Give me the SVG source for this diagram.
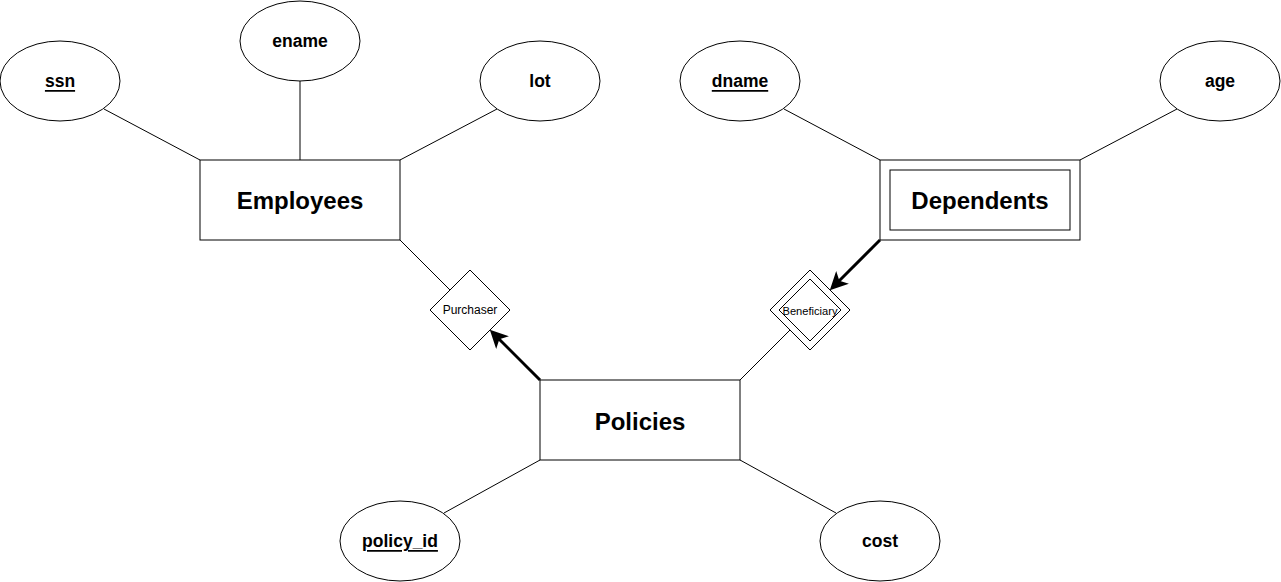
<svg xmlns="http://www.w3.org/2000/svg" width="1281" height="582" viewBox="0 0 1281 582">
<style>
.shape{fill:#fff;stroke:#000;stroke-width:1}
.conn{stroke:#000;stroke-width:1;fill:none}
.thick{stroke:#000;stroke-width:3;fill:none}
.ent{font-family:"Liberation Sans",Arial,sans-serif;font-size:24px;font-weight:bold;text-anchor:middle;dominant-baseline:central}
.att{font-family:"Liberation Sans",Arial,sans-serif;font-size:17.5px;font-weight:bold;text-anchor:middle;dominant-baseline:central}
.rel{font-family:"Liberation Sans",Arial,sans-serif;font-size:12px;text-anchor:middle;dominant-baseline:central}
.key{text-decoration:underline}
</style>
<defs>
<marker id="arr" markerWidth="6" markerHeight="6" refX="4.5" refY="3" orient="auto" markerUnits="strokeWidth">
<path d="M0,0 L6,3 L0,6 L1.5,3 Z" fill="#000"/>
</marker>
</defs>
<g id="connectors">
<line class="conn" x1="104" y1="109" x2="200" y2="160"/>
<line class="conn" x1="300" y1="81" x2="300" y2="160"/>
<line class="conn" x1="497" y1="109" x2="400" y2="160"/>
<line class="conn" x1="784" y1="109" x2="880" y2="160"/>
<line class="conn" x1="1177" y1="109" x2="1080" y2="160"/>
<line class="conn" x1="400" y1="240" x2="450" y2="290"/>
<line class="thick" x1="540" y1="380" x2="493" y2="333" marker-end="url(#arr)"/>
<line class="thick" x1="880" y1="240" x2="833" y2="287" marker-end="url(#arr)"/>
<line class="conn" x1="740" y1="380" x2="790" y2="330"/>
<line class="conn" x1="540" y1="460" x2="444" y2="513"/>
<line class="conn" x1="740" y1="460" x2="836" y2="513"/>
</g>
<g id="ssn"><ellipse class="shape" cx="60" cy="81" rx="60" ry="40"/><text class="att key" x="60" y="81">ssn</text></g>
<g id="ename"><ellipse class="shape" cx="300" cy="41" rx="60" ry="40"/><text class="att" x="300" y="41">ename</text></g>
<g id="lot"><ellipse class="shape" cx="540" cy="81" rx="60" ry="40"/><text class="att" x="540" y="81">lot</text></g>
<g id="dname"><ellipse class="shape" cx="740" cy="81" rx="60" ry="40"/><text class="att key" x="740" y="81">dname</text></g>
<g id="age"><ellipse class="shape" cx="1220" cy="81" rx="60" ry="40"/><text class="att" x="1220" y="81">age</text></g>
<g id="policy_id"><ellipse class="shape" cx="400" cy="541" rx="60" ry="40"/><text class="att key" x="400" y="541">policy_id</text></g>
<g id="cost"><ellipse class="shape" cx="880" cy="541" rx="60" ry="40"/><text class="att" x="880" y="541">cost</text></g>
<g id="Employees"><rect class="shape" x="200" y="160" width="200" height="80"/><text class="ent" x="300" y="200">Employees</text></g>
<g id="Dependents"><rect class="shape" x="880" y="160" width="200" height="80"/><rect class="shape" x="890" y="170" width="180" height="60"/><text class="ent" x="980" y="200">Dependents</text></g>
<g id="Policies"><rect class="shape" x="540" y="380" width="200" height="80"/><text class="ent" x="640" y="421">Policies</text></g>
<g id="Purchaser"><polygon class="shape" points="470,270 510,310 470,350 430,310"/><text class="rel" x="470" y="310">Purchaser</text></g>
<g id="Beneficiary"><polygon class="shape" points="810,270 850,310 810,350 770,310"/><polygon class="shape" points="810,279 841,310 810,341 779,310"/><text class="rel" x="810" y="311" style="font-size:10px" textLength="55" lengthAdjust="spacingAndGlyphs">Beneficiary</text></g>
</svg>
